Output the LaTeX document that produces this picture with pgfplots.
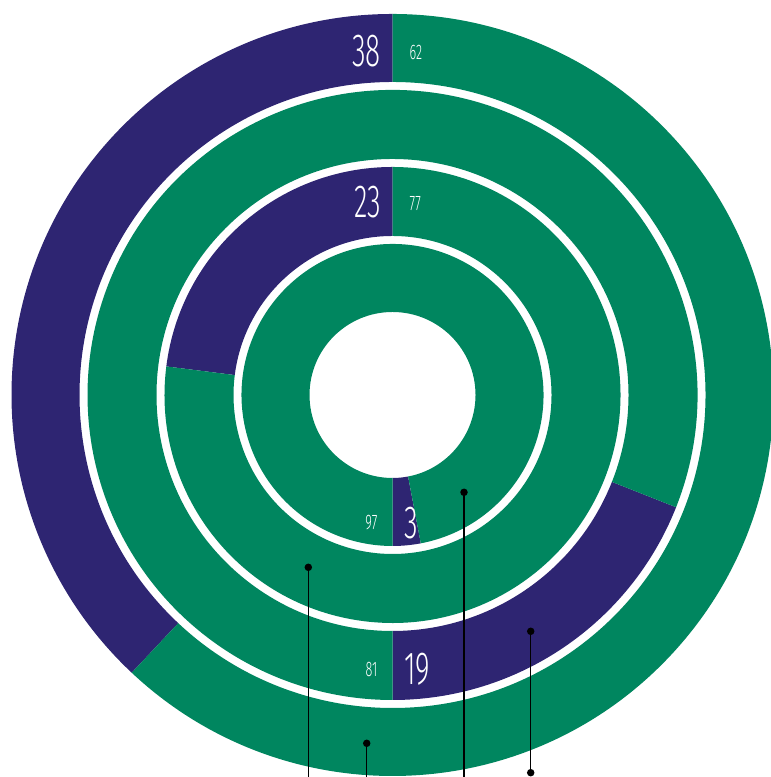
\documentclass[border=0pt]{standalone}
\usepackage{pgfplots}
\pgfplotsset{compat=1.18}
\usepackage{fontspec}
\newfontfamily\cond[FakeStretch=0.6, UprightFont={* Light}]{Fira Sans}
\definecolor{pur}{RGB}{46,37,114}
\definecolor{grn}{RGB}{0,134,95}
% annular sector: colour, inner r, outer r, start angle, end angle
\newcommand{\seg}[5]{%
 \fill[#1] (axis cs:{#3*cos(#4)},{#3*sin(#4)}) arc[start angle={#4}, end angle={#5}, radius={#3*0.01cm}]
   -- (axis cs:{#2*cos(#5)},{#2*sin(#5)}) arc[start angle={#5}, end angle={#4}, radius={#2*0.01cm}] -- cycle;}
% ring: inner r, outer r, start angle, purple share (percent)
\newcommand{\ring}[4]{%
 \seg{pur}{#1}{#2}{#3}{#3+#4*3.6}%
 \seg{grn}{#1}{#2}{#3+#4*3.6}{#3+360}}
\begin{document}
\begin{tikzpicture}
\begin{axis}[x=0.01cm, y=0.01cm,
  xmin=-392.5, xmax=378.5, ymin=-382, ymax=395,
  hide axis, clip=true, clip bounding box=upper bound]
\path (rel axis cs:0,0) rectangle (rel axis cs:1,1);
% rings (outer to inner): shares 38, 19, 23, 3
\ring{313}{381}{90}{38}
\ring{236}{305}{-90}{19}
\ring{159}{228}{90}{23}
\ring{83}{151}{-90}{3}
% labels
\node[anchor=east, inner sep=0, white, font=\cond\fontsize{13.2}{14}\selectfont] at (axis cs:-11,344) {38};
\node[anchor=west, inner sep=0, white, font=\cond\fontsize{6}{7}\selectfont] at (axis cs:16.5,342) {62};
\node[anchor=east, inner sep=0, white, font=\cond\fontsize{13.2}{14}\selectfont] at (axis cs:-11,192.5) {23};
\node[anchor=west, inner sep=0, white, font=\cond\fontsize{6}{7}\selectfont] at (axis cs:16.5,191) {77};
\node[anchor=west, inner sep=0, white, font=\cond\fontsize{13.2}{14}\selectfont] at (axis cs:11,-128) {3};
\node[anchor=east, inner sep=0, white, font=\cond\fontsize{6}{7}\selectfont] at (axis cs:-14.5,-128) {97};
\node[anchor=west, inner sep=0, white, font=\cond\fontsize{13.2}{14}\selectfont] at (axis cs:11,-274.5) {19};
\node[anchor=east, inner sep=0, white, font=\cond\fontsize{6}{7}\selectfont] at (axis cs:-14.5,-274) {81};
% leader lines
\addplot[black, line width=0.4pt, mark=none] coordinates {(-84.2,-172.3) (-84.2,-420)};
\addplot[black, line width=0.4pt, mark=none] coordinates {(-25.8,-348.3) (-25.8,-420)};
\addplot[black, line width=0.4pt, mark=none] coordinates {(71.5,-97.3) (71.5,-420)};
\addplot[black, line width=0.4pt, mark=none] coordinates {(138.2,-236.3) (138.2,-377.7)};
\addplot[only marks, mark=*, mark size=0.85pt, black] coordinates {(-84.2,-172.3) (-25.8,-348.3) (71.5,-97.3) (138.2,-236.3) (138.2,-377.7)};
\end{axis}
\end{tikzpicture}
\end{document}
